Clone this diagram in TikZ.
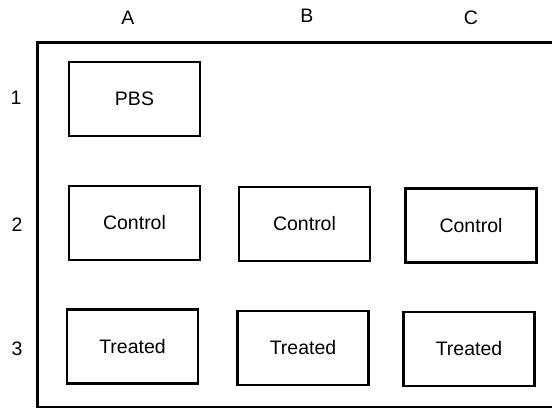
\documentclass[tikz,border=0pt]{standalone}
\usepackage{fontspec}
\setmainfont{Liberation Sans}
\usepackage{tikz}

\begin{document}
\begin{tikzpicture}[x=1pt,y=1pt]
        \tikzstyle{every node}+=[inner sep=0pt]
        \tikzstyle{well}=[draw=black,line width=2.2pt,minimum width=131pt,minimum height=74pt,font=\fontsize{19.5}{21}\selectfont]
        \tikzstyle{lbl}=[font=\fontsize{19.5}{21}\selectfont]
        \useasboundingbox (0,0) rectangle (552,-409);
        \draw [black,line width=2.2pt] (580,-42.5) -- (37.5,-42.5) -- (37.5,-407) -- (580,-407);
        \node [lbl] (colA) at (128,-18) {A};
        \node [lbl] (colB) at (307,-16) {B};
        \node [lbl] (colC) at (471,-18) {C};
        \node [lbl] (row1) at (16,-98) {1};
        \node [lbl] (row2) at (17,-225) {2};
        \node [lbl] (row3) at (17,-349) {3};
        \node [well] (pbs) at (134.5,-99) {PBS};
        \node [well] (ctlA) at (134.5,-223) {Control};
        \node [well] (ctlB) at (304.5,-224) {Control};
        \node [well] (ctlC) at (471,-225.5) {Control};
        \node [well] (trtA) at (132.5,-346.5) {Treated};
        \node [well] (trtB) at (303,-348) {Treated};
        \node [well] (trtC) at (469,-349) {Treated};
\end{tikzpicture}
\end{document}
